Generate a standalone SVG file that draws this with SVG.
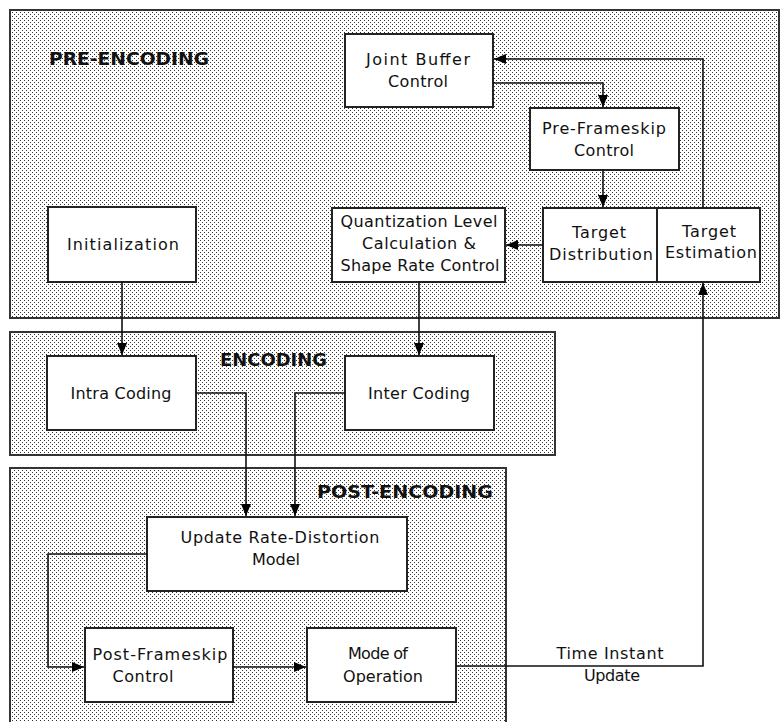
<svg xmlns="http://www.w3.org/2000/svg" width="781" height="722" viewBox="0 0 781 722">
<defs>
<pattern id="stipple" width="4" height="4" patternUnits="userSpaceOnUse">
<rect width="4" height="4" fill="#ffffff"/>
<rect x="0" y="0" width="1" height="1" fill="#333"/>
<rect x="2" y="2" width="1" height="1" fill="#333"/>
</pattern>
<marker id="arr" viewBox="0 0 12 10" refX="12" refY="5" markerWidth="12" markerHeight="10" markerUnits="userSpaceOnUse" orient="auto">
<path d="M0,0 L12,5 L0,10 z" fill="#000"/>
</marker>
<style>
.grp{fill:url(#stipple);stroke:#333;stroke-width:2}
.box{fill:#fff;stroke:#222;stroke-width:2}
.t{font-family:"DejaVu Sans","Liberation Sans",sans-serif;font-size:16px;fill:#111;text-anchor:middle}
.h{font-family:"DejaVu Sans","Liberation Sans",sans-serif;font-size:18px;font-weight:bold;fill:#111}
.c{fill:none;stroke:#111;stroke-width:1.6}
.div{stroke:#222;stroke-width:2}
</style>
</defs>
<rect width="781" height="722" fill="#fff"/>

<g id="pre-encoding">
<rect class="grp" x="10" y="10" width="769" height="308"/>
<text class="h" x="49" y="65" textLength="160" lengthAdjust="spacingAndGlyphs">PRE-ENCODING</text>
</g>
<g id="encoding">
<rect class="grp" x="10" y="332" width="545" height="123"/>
<text class="h" x="220" y="366" textLength="107" lengthAdjust="spacingAndGlyphs">ENCODING</text>
</g>
<g id="post-encoding">
<rect class="grp" x="10" y="468" width="496" height="262"/>
<text class="h" x="317" y="498" textLength="176" lengthAdjust="spacingAndGlyphs">POST-ENCODING</text>
</g>

<g id="joint-buffer-control">
<rect class="box" x="345" y="34" width="148" height="73"/>
<text class="t" x="418" y="65" textLength="104" lengthAdjust="spacing">Joint Buffer</text>
<text class="t" x="418" y="87" textLength="60" lengthAdjust="spacing">Control</text>
</g>
<g id="pre-frameskip-control">
<rect class="box" x="530" y="108" width="149" height="62"/>
<text class="t" x="604" y="134" textLength="124" lengthAdjust="spacing">Pre-Frameskip</text>
<text class="t" x="604" y="156" textLength="60" lengthAdjust="spacing">Control</text>
</g>
<g id="quantization">
<rect class="box" x="332" y="208" width="173" height="74"/>
<text class="t" x="419" y="227" textLength="157" lengthAdjust="spacing">Quantization Level</text>
<text class="t" x="419" y="249" textLength="114" lengthAdjust="spacing">Calculation &amp;</text>
<text class="t" x="420" y="271" textLength="159" lengthAdjust="spacing">Shape Rate Control</text>
</g>
<g id="target-distribution">
<rect class="box" x="543" y="208" width="114" height="74"/>
<text class="t" x="599" y="238" textLength="54" lengthAdjust="spacing">Target</text>
<text class="t" x="601" y="260" textLength="104" lengthAdjust="spacing">Distribution</text>
</g>
<g id="target-estimation">
<rect class="box" x="657" y="208" width="103" height="74"/>
<text class="t" x="709" y="237" textLength="54" lengthAdjust="spacing">Target</text>
<text class="t" x="711" y="258" textLength="92" lengthAdjust="spacing">Estimation</text>
</g>
<g id="initialization">
<rect class="box" x="48" y="207" width="148" height="75"/>
<text class="t" x="123" y="250" textLength="112" lengthAdjust="spacing">Initialization</text>
</g>
<g id="intra-coding">
<rect class="box" x="47" y="356" width="149" height="74"/>
<text class="t" x="121" y="399" textLength="101" lengthAdjust="spacing">Intra Coding</text>
</g>
<g id="inter-coding">
<rect class="box" x="345" y="356" width="149" height="74"/>
<text class="t" x="419" y="399" textLength="102" lengthAdjust="spacing">Inter Coding</text>
</g>
<g id="update-rd-model">
<rect class="box" x="147" y="517" width="260" height="74"/>
<text class="t" x="280" y="543" textLength="199" lengthAdjust="spacing">Update Rate-Distortion</text>
<text class="t" x="276" y="565" textLength="48" lengthAdjust="spacing">Model</text>
</g>
<g id="post-frameskip-control">
<rect class="box" x="85" y="628" width="148" height="74"/>
<text class="t" x="160" y="660" textLength="135" lengthAdjust="spacing">Post-Frameskip</text>
<text class="t" x="143" y="682" textLength="61" lengthAdjust="spacing">Control</text>
</g>
<g id="mode-of-operation">
<rect class="box" x="307" y="628" width="149" height="74"/>
<text class="t" x="378" y="659" textLength="60" lengthAdjust="spacing">Mode of</text>
<text class="t" x="383" y="682" textLength="80" lengthAdjust="spacing">Operation</text>
</g>

<g id="connectors">
<path class="c" d="M703,208 V59 H494" marker-end="url(#arr)"/>
<path class="c" d="M493,83 H603 V107" marker-end="url(#arr)"/>
<path class="c" d="M603,170 V207" marker-end="url(#arr)"/>
<path class="c" d="M543,245 H506" marker-end="url(#arr)"/>
<path class="c" d="M122,282 V355" marker-end="url(#arr)"/>
<path class="c" d="M419,282 V355" marker-end="url(#arr)"/>
<path class="c" d="M196,393 H246 V516" marker-end="url(#arr)"/>
<path class="c" d="M345,393 H295 V516" marker-end="url(#arr)"/>
<path class="c" d="M147,554 H48 V667 H84" marker-end="url(#arr)"/>
<path class="c" d="M233,667 H306" marker-end="url(#arr)"/>
<path class="c" d="M456,666 H703 V283" marker-end="url(#arr)"/>
<text class="t" x="610" y="659" textLength="107" lengthAdjust="spacing">Time Instant</text>
<text class="t" x="612" y="681" textLength="56" lengthAdjust="spacing">Update</text>
</g>
</svg>
